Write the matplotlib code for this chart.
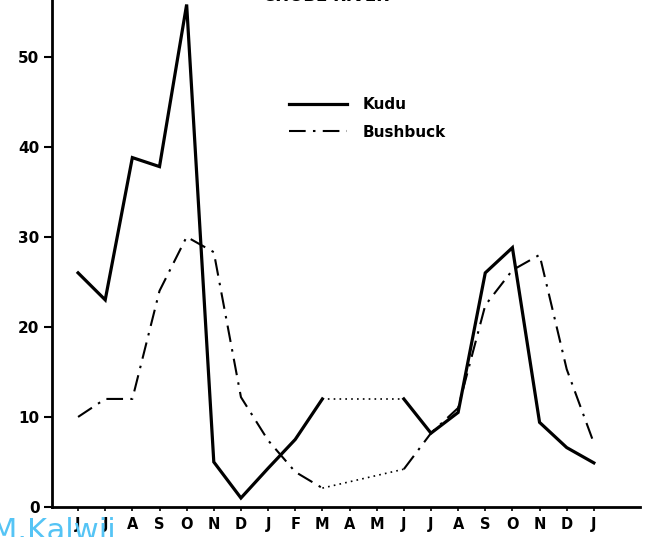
import numpy as np
import matplotlib.pyplot as plt

months = ["J", "J", "A", "S", "O", "N", "D", "J", "F", "M",
          "A", "M", "J", "J", "A", "S", "O", "N", "D", "J"]
# NaN = no count (April, May) -> bridged with a dotted line
kudu = [26, 23, 38.8, 37.8, 55.8, 5, 1, 4.3, 7.5, 12,
        np.nan, np.nan, 12, 8.2, 10.5, 26, 28.8, 9.4, 6.6, 4.9]
bushbuck = [10, 12, 12, 24, 30, 28.3, 12.2, 7.4, 3.9, 2.1,
            np.nan, np.nan, 4.2, 8.2, 11, 22.4, 26.3, 28, 15.3, 7.1]
yticks = [0, 10, 20, 30, 40, 50]

plt.rcParams['font.family'] = 'DejaVu Sans'

fig = plt.figure(figsize=(6.47, 5.37), dpi=100)
ax = fig.add_axes([52 / 647, 30 / 537, 588 / 647, 507 / 537])

x = np.arange(len(months))
ax.plot(x, kudu, color='black', lw=2.3, solid_joinstyle='miter', label='Kudu')
ax.plot(x, bushbuck, color='black', lw=1.5, linestyle=(0, (8, 3.5, 1.2, 3.5)),
        label='Bushbuck')

# dotted bridges over the missing months
gap = [9, 12]
ax.plot(x[gap], [kudu[i] for i in gap], color='black', lw=1.2, linestyle=(0, (1, 2.5)))
ax.plot(x[gap], [bushbuck[i] for i in gap], color='black', lw=1.2, linestyle=(0, (1, 2.5)))

ax.set_xlim(-0.96, 20.7)
ax.set_ylim(0, 56.3)
ax.set_xticks(x)
ax.set_xticklabels(months)
ax.set_yticks(yticks)

for s in ['top', 'right']:
    ax.spines[s].set_visible(False)
for s in ['left', 'bottom']:
    ax.spines[s].set_linewidth(2)

ax.tick_params(axis='y', direction='out', length=6, width=1.5, pad=3,
               labelsize=11)
ax.tick_params(axis='x', direction='out', length=3, width=1.2, pad=4,
               labelsize=10.5)
for lab in ax.get_xticklabels() + ax.get_yticklabels():
    lab.set_fontweight('bold')

leg = ax.legend(loc='upper left', bbox_to_anchor=(0.38, 0.835), frameon=False,
                handlelength=3.8, handletextpad=1.0, labelspacing=0.8,
                prop={'size': 11, 'weight': 'bold'})

fig.text(326 / 647, 1 - 5 / 537, "CHOBE RIVER", ha='center', va='bottom',
         fontsize=12, fontweight='bold')

fig.text(-0.014, -0.016, "M.Kalwii", color='#55c4f5', fontsize=22,
         ha='left', va='bottom')

plt.savefig("out.png", dpi=100)
